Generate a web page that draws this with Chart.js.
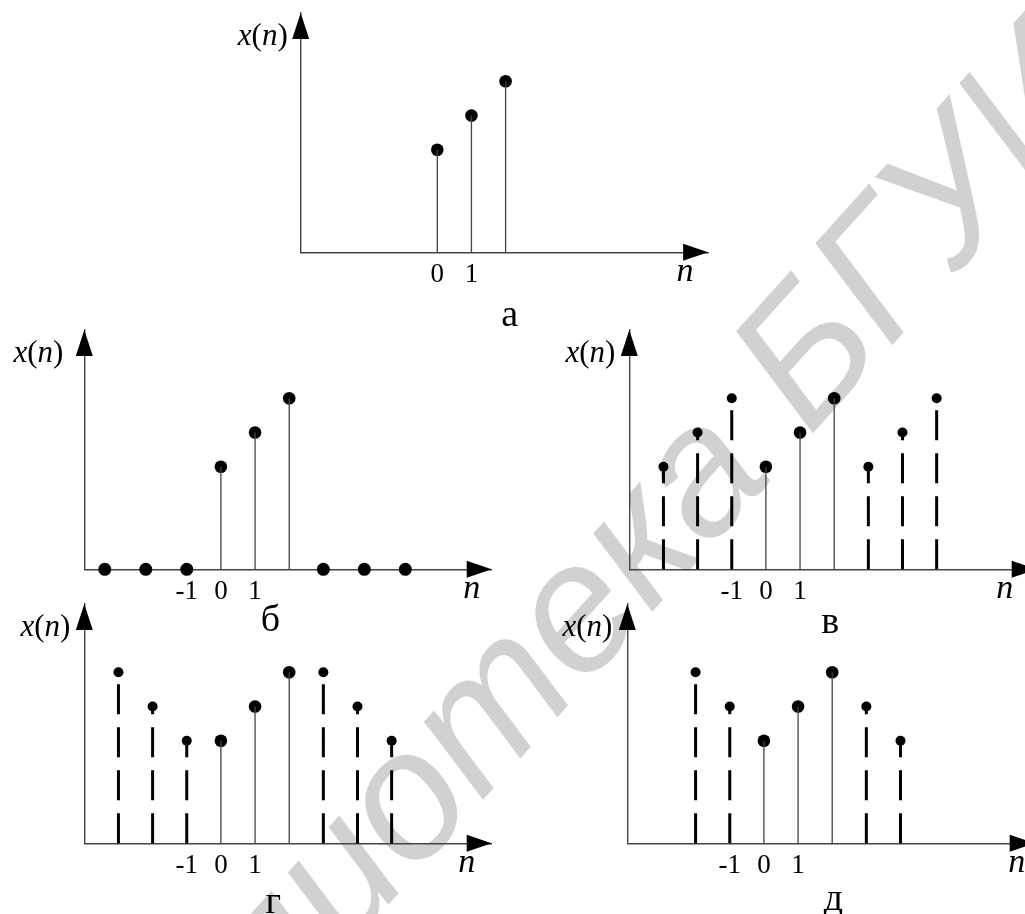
<!DOCTYPE html>
<html lang="ru">
<head>
<meta charset="UTF-8">
<title>Продолжение последовательности x(n)</title>
<script src="https://cdn.jsdelivr.net/npm/chart.js"></script>
<style>
  html, body { margin: 0; padding: 0; background: #fff; overflow: hidden; }
  body { width: 1025px; height: 914px; position: relative; }
  .wm {
    position: absolute; left: 0; top: 0;
    font: italic 182px "Liberation Sans", Arial, sans-serif; line-height: 1;
    color: #d1d1d1; white-space: nowrap;
  }
  .wm .base { display: inline-block; width: 0; height: 0; vertical-align: baseline; }
  canvas { position: absolute; }
</style>
</head>
<body>
<div class="wm" id="wm"><span id="wm1">Библиотека </span><span>БГУИР</span><span class="base" id="wmBase"></span></div>
<canvas id="grA"></canvas>
<canvas id="grB"></canvas>
<canvas id="grV"></canvas>
<canvas id="grG"></canvas>
<canvas id="grD"></canvas>

<script>
// а: исходная последовательность
const nA = [0, 1, 2];
const xA = [3, 4, 5];
const ticksA = [0, 1];

// б: дополнение нулями
const nB = [0, 1, 2];
const xB = [3, 4, 5];
const nB0 = [-3.4, -2.2, -1, 3, 4.2, 5.4];
const xB0 = [0, 0, 0, 0, 0, 0];

// в: периодическое продолжение
const nV = [0, 1, 2];
const xV = [3, 4, 5];
const nVd = [-3, -2, -1, 3, 4, 5];
const xVd = [3, 4, 5, 3, 4, 5];

// г: четное продолжение
const nG = [0, 1, 2];
const xG = [3, 4, 5];
const nGd = [-3, -2, -1, 3, 4, 5];
const xGd = [5, 4, 3, 5, 4, 3];

// д: симметричное продолжение
const nD = [0, 1, 2];
const xD = [3, 4, 5];
const nDd = [-2, -1, 3, 4];
const xDd = [5, 4, 4, 3];

const ticksN = [-1, 0, 1];

const X_MIN = -4, X_MAX = 7.93, Y_MAX = 7;
const CW = (X_MAX - X_MIN) * 34.15;   // ширина области графика
const CH = Y_MAX * 34.2;              // высота области графика
const XH = 40;                        // высота оси x

const serif = '"Liberation Serif", "Times New Roman", serif';

// водяной знак: начало слова "БГУИР" на базовой линии в точке (809, 437), наклон 48°
(function () {
  const wm = document.getElementById('wm');
  const base = document.getElementById('wmBase').offsetTop;
  const pre = document.getElementById('wm1').offsetWidth;
  const a = 48 * Math.PI / 180;
  const px = 809 - pre * Math.cos(a);
  const py = 437 + pre * Math.sin(a);
  wm.style.transformOrigin = '0px ' + base + 'px';
  wm.style.left = px + 'px';
  wm.style.top = (py - base) + 'px';
  wm.style.transform = 'rotate(-48deg)';
})();

function stems(ns, vals) {
  const pts = [];
  ns.forEach((n, i) => {
    pts.push({ x: n, y: 0 }, { x: n, y: vals[i] }, { x: n, y: null });
  });
  return pts;
}
function dots(ns, vals) {
  return ns.map((n, i) => ({ x: n, y: vals[i] }));
}

const decor = {
  id: 'decor',
  afterDraw(chart, args, o) {
    const { ctx, chartArea: { left, right, top, bottom } } = chart;
    ctx.save();
    ctx.fillStyle = '#000';
    // стрелки осей
    ctx.beginPath();
    ctx.moveTo(left, top);
    ctx.lineTo(left - 8.5, top + 26);
    ctx.lineTo(left + 8.5, top + 26);
    ctx.closePath();
    ctx.fill();
    ctx.beginPath();
    ctx.moveTo(right, bottom);
    ctx.lineTo(right - 25, bottom - 8.5);
    ctx.lineTo(right - 25, bottom + 8.5);
    ctx.closePath();
    ctx.fill();

    // подпись x(n)
    ctx.textBaseline = 'alphabetic';
    const parts = [['x', true], ['(', false], ['n', true], [')', false]];
    const fontOf = it => (it ? 'italic ' : '') + '31px ' + serif;
    let total = 0;
    parts.forEach(([s, it]) => { ctx.font = fontOf(it); total += ctx.measureText(s).width; });
    let px = left - o.xnGap - total;
    parts.forEach(([s, it]) => {
      ctx.font = fontOf(it);
      ctx.fillText(s, px, top + 32);
      px += ctx.measureText(s).width;
    });

    // подпись n
    ctx.font = 'italic 34px ' + serif;
    ctx.textAlign = 'center';
    ctx.fillText('n', right + o.nDx, bottom + 29);

    // буква рисунка
    ctx.font = '38px ' + serif;
    ctx.fillText(o.cap, left + o.capDx, bottom + o.capDy);
    ctx.restore();
  }
};

function makePanel(p) {
  const cv = document.getElementById(p.id);
  const W = 500, H = 340;
  const left = Math.floor(p.ox - 80);
  const top = Math.floor(p.oy - CH - 8);
  cv.width = W;
  cv.height = H;
  cv.style.left = left + 'px';
  cv.style.top = top + 'px';
  const padL = p.ox - left;
  const padT = p.oy - CH - top;

  const datasets = [];
  if (p.dashed) {
    datasets.push({
      data: stems(p.dashed[0], p.dashed[1]), showLine: true, pointRadius: 0,
      borderColor: '#000', borderWidth: 3, borderDash: [30, 13], clip: false
    });
  }
  datasets.push({
    data: stems(p.solid[0], p.solid[1]), showLine: true, pointRadius: 0,
    borderColor: '#444', borderWidth: 1.3, clip: false
  });
  if (p.dashed) {
    datasets.push({
      data: dots(p.dashed[0], p.dashed[1]), showLine: false, pointRadius: 5,
      pointBackgroundColor: '#000', pointBorderWidth: 0, clip: false
    });
  }
  datasets.push({
    data: dots(p.solid[0], p.solid[1]), showLine: false, pointRadius: 6.3,
    pointBackgroundColor: '#000', pointBorderWidth: 0, clip: false
  });
  if (p.zeros) {
    datasets.push({
      data: dots(p.zeros[0], p.zeros[1]), showLine: false, pointRadius: 6.5,
      pointBackgroundColor: '#000', pointBorderWidth: 0, clip: false
    });
  }

  new Chart(cv, {
    type: 'scatter',
    data: { datasets },
    options: {
      responsive: false,
      animation: false,
      events: [],
      layout: { padding: { left: padL, top: padT, right: W - padL - CW, bottom: H - padT - CH - XH } },
      elements: { line: { tension: 0 } },
      plugins: {
        legend: { display: false },
        tooltip: { enabled: false },
        decor: { cap: p.cap, capDx: p.capDx, capDy: p.capDy, nDx: p.nDx, xnGap: p.xnGap }
      },
      scales: {
        x: {
          type: 'linear', min: X_MIN, max: X_MAX,
          grid: { display: false, drawTicks: false },
          border: { color: '#444', width: 1.4 },
          ticks: { color: '#000', font: { family: serif, size: 27 }, padding: 6 },
          afterBuildTicks: s => { s.ticks = p.ticks.map(v => ({ value: v })); },
          afterFit: s => { s.height = XH; }
        },
        y: {
          type: 'linear', min: 0, max: Y_MAX,
          grid: { display: false, drawTicks: false },
          border: { color: '#444', width: 1.4 },
          ticks: { display: false }
        }
      }
    },
    plugins: [decor]
  });
}

[
  { id: 'grA', ox: 300.7, oy: 252.3, ticks: ticksA, solid: [nA, xA], cap: 'а', capDx: 209, capDy: 74, nDx: -23, xnGap: 13 },
  { id: 'grB', ox: 84.3, oy: 569.3, ticks: ticksN, solid: [nB, xB], zeros: [nB0, xB0], cap: 'б', capDx: 186, capDy: 62, nDx: -20, xnGap: 21 },
  { id: 'grV', ox: 629.3, oy: 569.3, ticks: ticksN, solid: [nV, xV], dashed: [nVd, xVd], cap: 'в', capDx: 201, capDy: 64, nDx: -32, xnGap: 14 },
  { id: 'grG', ox: 84.3, oy: 843.3, ticks: ticksN, solid: [nG, xG], dashed: [nGd, xGd], cap: 'г', capDx: 189, capDy: 70, nDx: -25, xnGap: 14 },
  { id: 'grD', ox: 627.3, oy: 843.3, ticks: ticksN, solid: [nD, xD], dashed: [nDd, xDd], cap: 'д', capDx: 206, capDy: 67, nDx: -18, xnGap: 15 }
].forEach(makePanel);
</script>
</body>
</html>
